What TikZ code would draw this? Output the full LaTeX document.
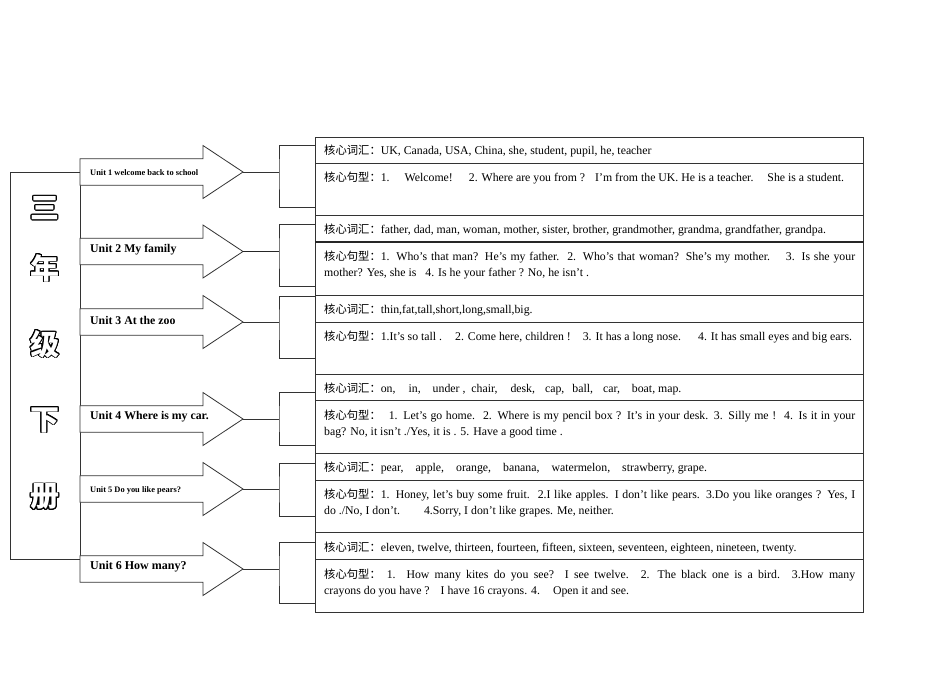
\documentclass[tikz,border=0pt]{standalone}
\usepackage{fontspec}
\setmainfont{Liberation Serif}
\newfontfamily\cjk[Scale=0.96]{Noto Sans CJK SC}
\newfontfamily\cjkbig{Noto Sans CJK SC}
\usetikzlibrary{calc}
\newcommand\outl[1]{%
  \foreach \a in {0,20,...,340}{%
    \pgfmathsetlengthmacro\dx{0.9pt*cos(\a)}%
    \pgfmathsetlengthmacro\dy{0.9pt*sin(\a)}%
    \rlap{\kern\dx\raisebox{\dy}{\color{black}#1}}}%
  {\color{white}#1}}
\newcommand\hx{{\cjk 核心词汇：}}
\newcommand\hj{{\cjk 核心句型：}}
\begin{document}
\begin{tikzpicture}[x=1pt,y=-1pt,
  ln/.style={draw=black!80, line width=0.8pt},
  row/.style={ln, rectangle, minimum width=548pt, anchor=north west, inner sep=0pt},
  txt/.style={anchor=west, inner sep=0pt, yshift=-1pt, font=\fontsize{11.8}{17}\selectfont},
  unitlab/.style={anchor=west, inner sep=0pt, font=\fontsize{11.8}{12}\selectfont\bfseries},
  smalllab/.style={anchor=west, inner sep=0pt, font=\fontsize{8.4}{9}\selectfont\bfseries},
  bigch/.style={inner sep=0pt, font=\fontsize{29}{29}\selectfont\cjkbig\bfseries},
  uarrow/.pic={
    \draw[ln, fill=white] (0,-13.3) -- (123,-13.3) -- (123,-26.5) -- (163,0)
      -- (123,26.5) -- (123,13.3) -- (0,13.3) -- cycle;
    \coordinate (-tip) at (163,0);
  }
]
\useasboundingbox[fill=white] (0,0) rectangle (950,672);

% left grade box
\node[ln, rectangle, minimum width=70pt, minimum height=387pt, anchor=north west, inner sep=0pt] (grade) at (10,172) {};
\node[bigch] (c1) at (45,208) {\outl{三}};
\node[bigch] (c2) at (45,268) {\outl{年}};
\node[bigch] (c3) at (45,344) {\outl{级}};
\node[bigch] (c4) at (45,420) {\outl{下}};
\node[bigch] (c5) at (45,497) {\outl{册}};

% arrows
\pic (a1) at (80,172) {uarrow};
\pic (a2) at (80,251.5) {uarrow};
\pic (a3) at (80,322) {uarrow};
\pic (a4) at (80,419) {uarrow};
\pic (a5) at (80,489) {uarrow};
\pic (a6) at (80,569) {uarrow};

\node[smalllab] (u1) at (90,172.7) {Unit 1 welcome back to school};
\node[unitlab] (u2) at (90,250) {Unit 2 My family};
\node[unitlab] (u3) at (90,320) {Unit 3 At the zoo};
\node[unitlab] (u4) at (90,416.7) {Unit 4 Where is my car.};
\node[smalllab, font=\fontsize{8.4}{9}\selectfont\bfseries] (u5) at (90,490.7) {Unit 5 Do you like pears?};
\node[unitlab, font=\fontsize{12}{13}\selectfont\bfseries] (u6) at (90,566.7) {Unit 6 How many?};

% right rows
\node[row, minimum height=26pt] (v1) at (315,137) {};
\node[row, minimum height=52pt] (s1) at (315,163) {};
\node[row, minimum height=27pt] (v2) at (315,215) {};
\node[row, minimum height=53pt] (s2) at (315,242) {};
\node[row, minimum height=27pt] (v3) at (315,295) {};
\node[row, minimum height=52pt] (s3) at (315,322) {};
\node[row, minimum height=26pt] (v4) at (315,374) {};
\node[row, minimum height=53pt] (s4) at (315,400) {};
\node[row, minimum height=27pt] (v5) at (315,453) {};
\node[row, minimum height=52pt] (s5) at (315,480) {};
\node[row, minimum height=27pt] (v6) at (315,532) {};
\node[row, minimum height=53pt] (s6) at (315,559) {};
\draw[draw=black!85, line width=1.5pt] (s2.north west) -- (s2.north east);

% brackets
\coordinate (bm1) at (279,172);   \coordinate (bt1) at (315,145); \coordinate (bb1) at (315,207);
\coordinate (bm2) at (279,251.5); \coordinate (bt2) at (315,224.5); \coordinate (bb2) at (315,286);
\coordinate (bm3) at (279,322);   \coordinate (bt3) at (315,296); \coordinate (bb3) at (315,358);
\coordinate (bm4) at (279,419);   \coordinate (bt4) at (315,392); \coordinate (bb4) at (315,445);
\coordinate (bm5) at (279,489);   \coordinate (bt5) at (315,463); \coordinate (bb5) at (315,516);
\coordinate (bm6) at (279,569);   \coordinate (bt6) at (315,542); \coordinate (bb6) at (315,603);
\foreach \i in {1,...,6}{
  \draw[ln] (bt\i) -| (bm\i) |- (bb\i);
}
\foreach \i in {1,3,4,5,6}{ \draw[ln] (a\i-tip) -- (bm\i); }
\draw[draw=black!85, line width=1.4pt] (a2-tip) -- (bm2);

% texts
\node[txt] (t1v) at (324,150) {\hx UK, Canada, USA, China, she, student, pupil, he, teacher};
\node[txt] (t1s) at (324,177) {\hj 1.\hspace{15pt}Welcome!\hspace{16pt}2. Where are you from ?\hspace{10pt}I’m from the UK. He is a teacher.\hspace{14pt}She is a student.};

\node[txt] (t2v) at (324,229) {\hx father, dad, man, woman, mother, sister, brother, grandmother, grandma, grandfather, grandpa.};
\node[txt] (t2a) at (324,256) {\makebox[531pt][s]{\hj 1. Who’s that man? He’s my father.\hspace{8pt}2. Who’s that woman? She’s my mother.\hspace{16pt}3. Is she your}};
\node[txt] (t2b) at (324,273) {mother? Yes, she is\hspace{9pt}4. Is he your father ? No, he isn’t .};

\node[txt] (t3v) at (324,309) {\hx thin,fat,tall,short,long,small,big.};
\node[txt] (t3s) at (324,336) {\hj 1.It’s so tall .\hspace{13pt}2. Come here, children !\hspace{12pt}3. It has a long nose.\hspace{17pt}4. It has small eyes and big ears.};

\node[txt] (t4v) at (324,388) {\hx on,\hspace{13pt}in,\hspace{12pt}under ,\hspace{3pt} chair,\hspace{13pt}desk,\hspace{10pt}cap,\hspace{8pt}ball,\hspace{10pt}car,\hspace{12pt}boat, map.};
\node[txt] (t4a) at (324,415) {\makebox[531pt][s]{\hj\hspace{8pt}1. Let’s go home.\hspace{8pt}2. Where is my pencil box ? It’s in your desk. 3. Silly me !\hspace{8pt}4. Is it in your}};
\node[txt] (t4b) at (324,432) {bag? No, it isn’t ./Yes, it is . 5. Have a good time .};

\node[txt] (t5v) at (324,467) {\hx pear,\hspace{12pt}apple,\hspace{12pt}orange,\hspace{12pt}banana,\hspace{12pt}watermelon,\hspace{12pt}strawberry, grape.};
\node[txt] (t5a) at (324,494) {\makebox[531pt][s]{\hj 1. Honey, let’s buy some fruit.\hspace{8pt}2.I like apples. I don’t like pears. 3.Do you like oranges ? Yes, I}};
\node[txt] (t5b) at (324,511) {do ./No, I don’t.\hspace{24pt}4.Sorry, I don’t like grapes. Me, neither.};

\node[txt] (t6v) at (324,547) {\hx eleven, twelve, thirteen, fourteen, fifteen, sixteen, seventeen, eighteen, nineteen, twenty.};
\node[txt] (t6a) at (324,574) {\makebox[531pt][s]{\hj\hspace{6pt}1. How many kites do you see? I see twelve.\hspace{12pt}2.\hspace{8pt}The black one is a bird.\hspace{12pt}3.How many}};
\node[txt] (t6b) at (324,591) {crayons do you have ?\hspace{11pt}I have 16 crayons. 4.\hspace{13pt}Open it and see.};
\end{tikzpicture}
\end{document}
